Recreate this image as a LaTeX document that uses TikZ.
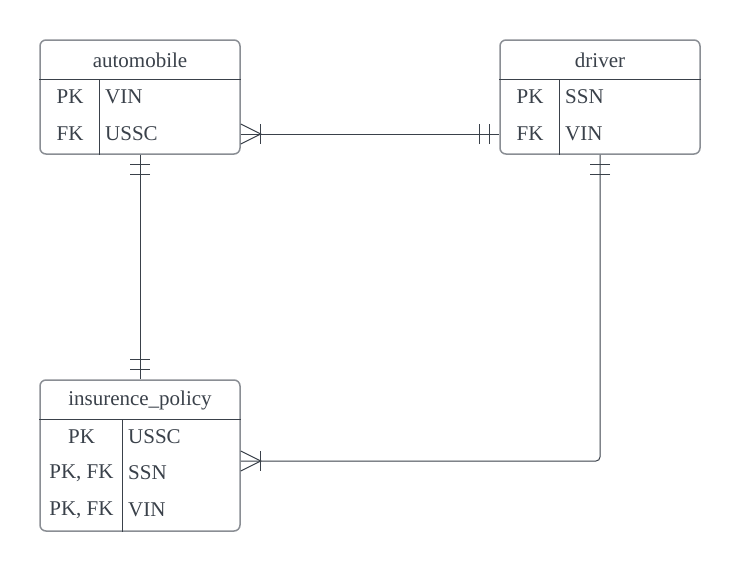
\documentclass[tikz,border=0pt]{standalone}
\usepackage{fontspec}
\setmainfont{Liberation Serif}
\usepackage{tikz}
\usetikzlibrary{positioning}
\definecolor{ink}{HTML}{3A414A}
\definecolor{frame}{HTML}{8A8E94}
\tikzset{
    entbox/.style = {rectangle, rounded corners=6pt, line width=1.5pt, draw=frame, fill=white, minimum width=200pt, inner sep=0pt},
    headtxt/.style = {text=ink, inner sep=0pt},
    keytxt/.style = {text=ink, inner sep=0pt},
    valtxt/.style = {text=ink, inner sep=0pt, anchor=west},
    divline/.style = {-, line width=1pt, ink},
    conn/.style = {-, line width=1pt, ink},
    one/.pic = {\draw[conn] (10,-10) -- (10,10); \draw[conn] (20,-10) -- (20,10);}, % one and only one
    many/.pic = {\draw[conn] (0,-10) -- (20,0) -- (0,10); \draw[conn] (20,-10) -- (20,10);}, % one or many
    every picture/.style={font issue=\fontsize{21}{25}},
    font issue/.style={execute at begin picture={#1\selectfont}}
}

\begin{document}
\begin{tikzpicture}[x=1pt, y=-1pt]
\useasboundingbox (0,0) rectangle (740,571);
% entities
\node[entbox, minimum height=114pt] at (140,97) (auto) {};
\node[entbox, minimum height=114pt] at (600,97) (drv) {};
\node[entbox, minimum height=151pt] at (140,455.5) (ins) {};
% automobile
\draw[divline] ([yshift=-40pt]auto.north west) -- ([yshift=-40pt]auto.north east);
\draw[divline] ([xshift=60pt,yshift=-40pt]auto.north west) -- ([xshift=60pt]auto.south west);
\node[headtxt] at (140,60) (autoh) {automobile};
\node[keytxt] at (70,97) (autopk) {PK};
\node[keytxt] at (70,134) (autofk) {FK};
\node[valtxt] at (105,97) (autovin) {VIN};
\node[valtxt] at (105,134) (autoussc) {USSC};
% driver
\draw[divline] ([yshift=-40pt]drv.north west) -- ([yshift=-40pt]drv.north east);
\draw[divline] ([xshift=60pt,yshift=-40pt]drv.north west) -- ([xshift=60pt]drv.south west);
\node[headtxt] at (600,60) (drvh) {driver};
\node[keytxt] at (530,97) (drvpk) {PK};
\node[keytxt] at (530,134) (drvfk) {FK};
\node[valtxt] at (565,97) (drvssn) {SSN};
\node[valtxt] at (565,134) (drvvin) {VIN};
% insurence_policy
\draw[divline] ([yshift=-40pt]ins.north west) -- ([yshift=-40pt]ins.north east);
\draw[divline] ([xshift=83pt,yshift=-40pt]ins.north west) -- ([xshift=83pt]ins.south west);
\node[headtxt] at (140,400) (insh) {insurence\_policy};
\node[keytxt] at (81.5,437) (inspk) {PK};
\node[keytxt] at (81.5,473) (insfka) {PK, FK};
\node[keytxt] at (81.5,510) (insfkb) {PK, FK};
\node[valtxt] at (128,437) (insussc) {USSC};
\node[valtxt] at (128,473) (insssn) {SSN};
\node[valtxt] at (128,510) (insvin) {VIN};
% relationships
\draw[conn] (auto.east |- autofk) -- (drv.west |- drvfk);
\pic at (auto.east |- autofk) {many};
\pic[rotate=180] at (drv.west |- drvfk) {one};
\draw[conn] (auto.south) -- (ins.north);
\pic[rotate=-90] at (auto.south) {one};
\pic[rotate=90] at (ins.north) {one};
\draw[conn, rounded corners=4pt] (drv.south) |- ([yshift=-5.5pt]ins.east);
\pic[rotate=-90] at (drv.south) {one};
\pic at ([yshift=-5.5pt]ins.east) {many};
\end{tikzpicture}
\end{document}
